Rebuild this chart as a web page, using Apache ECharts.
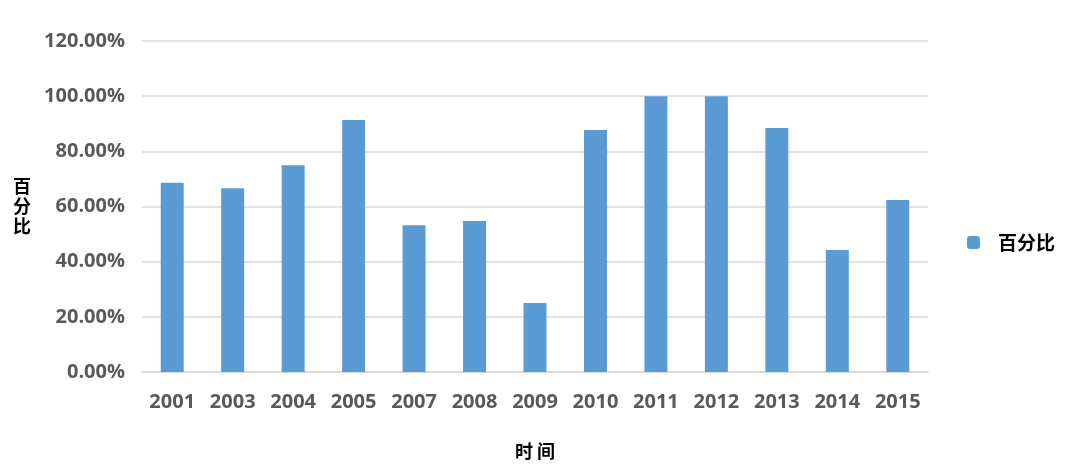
<!DOCTYPE html>
<html>
<head>
<meta charset="utf-8">
<script src="https://cdn.jsdelivr.net/npm/echarts@6/dist/echarts.min.js"></script>
<style>
  html, body { margin: 0; padding: 0; background: #fff; }
  #chart { width: 1080px; height: 476px; }
</style>
</head>
<body>
<div id="chart"></div>
<script>
// 年份
var years = ['2001', '2003', '2004', '2005', '2007', '2008', '2009', '2010', '2011', '2012', '2013', '2014', '2015'];
// 百分比 (%)
var percent = [68.6, 66.6, 75.0, 91.4, 53.2, 54.7, 25.0, 87.7, 100, 100, 88.5, 44.2, 62.4];
var yTicks = [0, 20, 40, 60, 80, 100, 120];

var myChart = echarts.init(document.getElementById('chart'));
var labelFont = '"Open Sans", "Noto Sans CJK SC", sans-serif';
var cjkFont = '"Noto Sans CJK SC", sans-serif';
var option = {
  animation: false,
  color: ['#5b9bd5'],
  grid: { left: 142, right: 152, top: 41, bottom: 104 },
  legend: {
    data: ['百分比'],
    orient: 'vertical',
    right: 20,
    top: 228,
    itemWidth: 13,
    itemHeight: 13,
    textStyle: { fontSize: 19, fontWeight: 'bold', color: '#000', fontFamily: cjkFont, padding: [0, 0, 0, 13] }
  },
  xAxis: {
    type: 'category',
    data: years,
    name: '时 间',
    nameLocation: 'middle',
    nameGap: 70,
    nameTextStyle: { fontSize: 18, fontWeight: 'bold', color: '#000', fontFamily: cjkFont },
    axisTick: { show: false },
    axisLine: { lineStyle: { color: '#d9d9d9', width: 1.5 } },
    axisLabel: { margin: 20, fontSize: 20, fontWeight: 'bold', color: '#595959', fontFamily: labelFont }
  },
  yAxis: {
    type: 'value',
    min: yTicks[0],
    max: yTicks[yTicks.length - 1],
    interval: 20,
    name: '百\n分\n比',
    nameLocation: 'middle',
    nameRotate: 0,
    nameGap: 111,
    nameTextStyle: { fontSize: 18, fontWeight: 'bold', color: '#000', lineHeight: 20, fontFamily: cjkFont, padding: [0, 0, 48, 0] },
    axisLine: { show: false },
    axisTick: { show: false },
    splitLine: { lineStyle: { color: '#d9d9d9', width: 1.5 } },
    axisLabel: {
      margin: 17,
      fontSize: 20,
      fontWeight: 'bold',
      color: '#595959',
      fontFamily: labelFont,
      formatter: function (v) { return v.toFixed(2) + '%'; }
    }
  },
  series: [{
    name: '百分比',
    type: 'bar',
    data: percent,
    barWidth: '38%'
  }]
};
myChart.setOption(option);
</script>
</body>
</html>
